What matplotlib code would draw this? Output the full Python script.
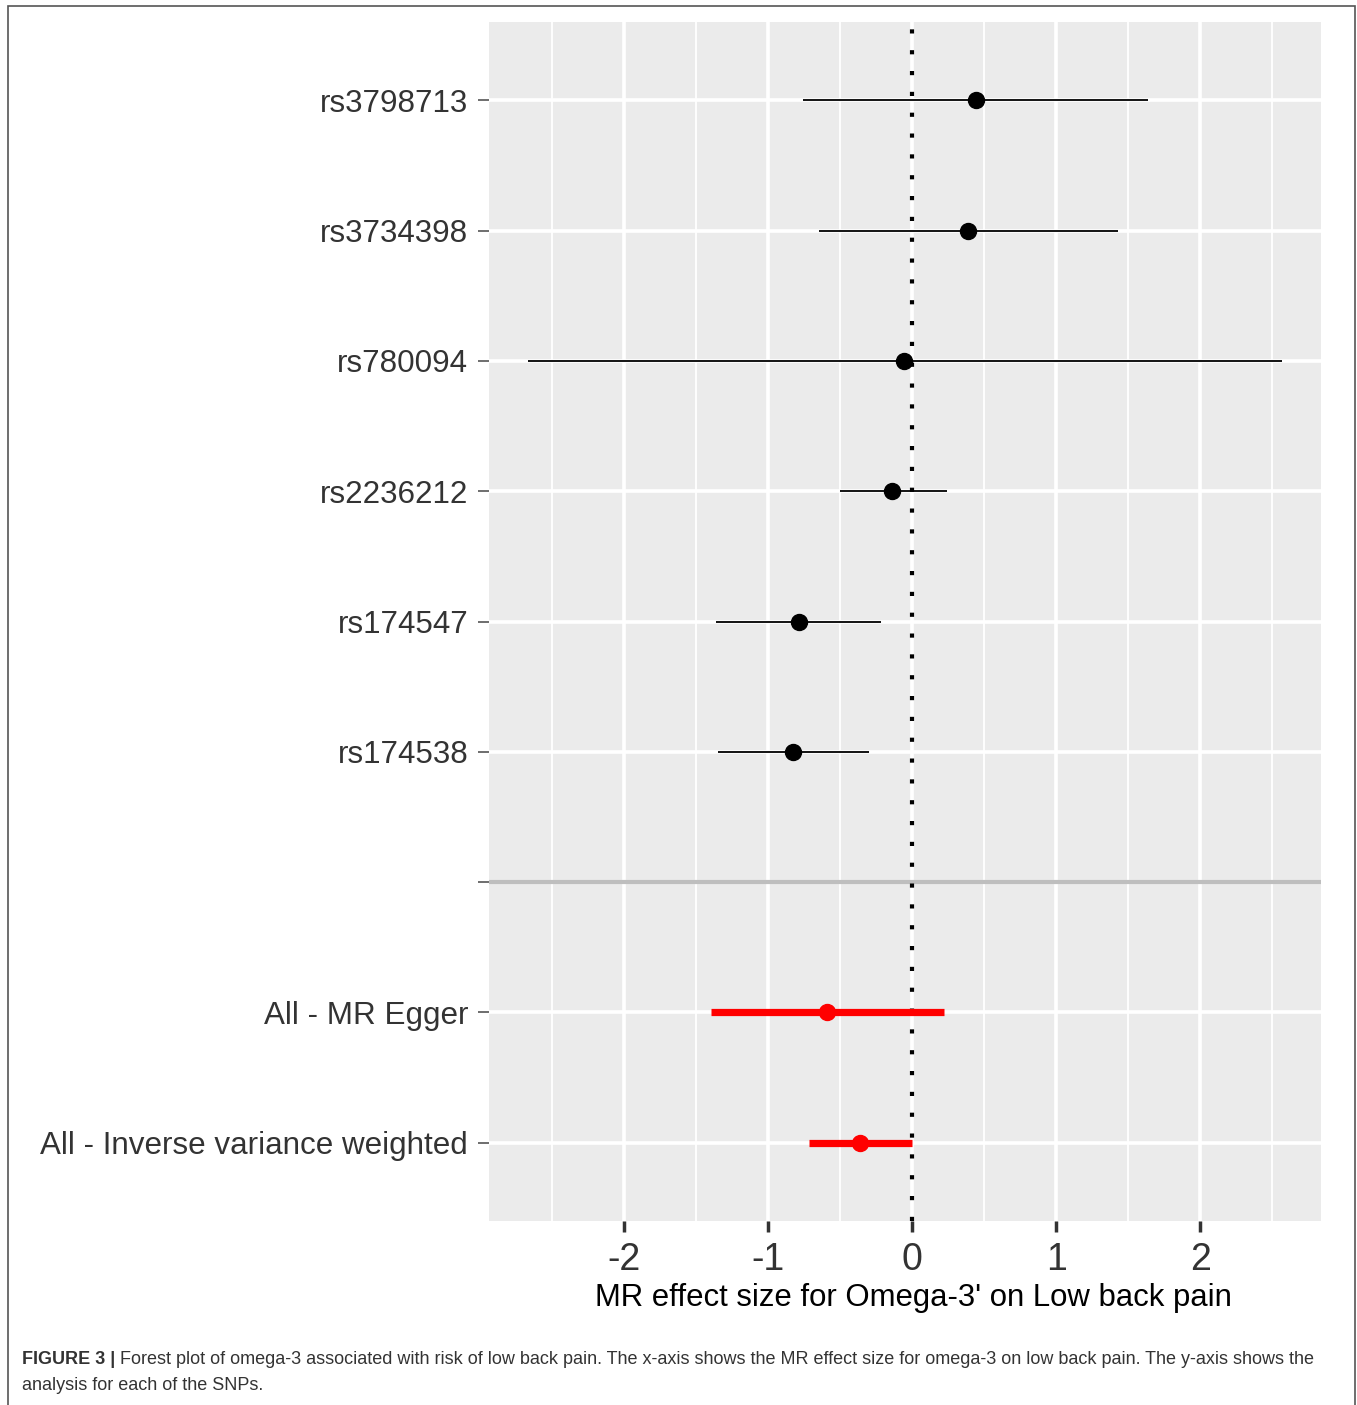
import numpy as np
import matplotlib.pyplot as plt
from matplotlib.patches import Rectangle

plt.rcParams['font.family'] = ['Liberation Sans', 'DejaVu Sans']

# ========================
# DATA
# ========================
snps = ["rs3798713", "rs3734398", "rs780094", "rs2236212", "rs174547", "rs174538"]
snp_b = [0.44, 0.39, -0.06, -0.14, -0.79, -0.83]
snp_lo = [-0.76, -0.65, -2.67, -0.50, -1.36, -1.35]
snp_hi = [1.64, 1.43, 2.57, 0.24, -0.22, -0.30]

methods = ["All - MR Egger", "All - Inverse variance weighted"]
meth_b = [-0.59, -0.36]
meth_lo = [-1.40, -0.72]
meth_hi = [0.22, 0.0]

xticks = [-2, -1, 0, 1, 2]
xlabel = "MR effect size for Omega-3' on Low back pain"
caption_bold = "FIGURE 3 |"
caption_rest = (" Forest plot of omega-3 associated with risk of low back pain. The x-axis shows the MR effect size "
                "for omega-3 on low back pain. The y-axis shows the")
caption_line2 = "analysis for each of the SNPs."

# row positions: top to bottom, separator row in between
labels = snps + [""] + methods
n = len(labels)
ypos = np.arange(n, 0, -1)
snp_y = ypos[:len(snps)]
sep_y = ypos[len(snps)]
meth_y = ypos[len(snps) + 1:]

# ========================
# PLOT
# ========================
fig = plt.figure(figsize=(13.57, 14.05), dpi=100)
ax = fig.add_axes([0.3604, 0.1310, 0.6131, 0.8533])
ax.set_facecolor('#EBEBEB')
for s in ax.spines.values():
    s.set_visible(False)

ax.set_xlim(-2.94, 2.84)
ax.set_ylim(0.4, n + 0.6)

# grid
for x in np.arange(-2.5, 3.0, 1.0):
    ax.axvline(x, color='white', lw=1.3, zorder=0.5)
for x in xticks:
    ax.axvline(x, color='white', lw=2.6, zorder=0.6)
for y in ypos:
    ax.axhline(y, color='white', lw=2.6, zorder=0.6)
ax.axhline(sep_y, color='#BEBEBE', lw=3, zorder=1)

# SNP estimates
ax.hlines(snp_y, snp_lo, snp_hi, color='black', lw=1.3, zorder=3)
ax.plot(snp_b, snp_y, 'o', color='black', ms=11.5, zorder=4)

# summary estimates
ax.hlines(meth_y, meth_lo, meth_hi, color='#FF0000', lw=5.2, zorder=3)
ax.plot(meth_b, meth_y, 'o', color='#FF0000', ms=11.5, zorder=4)

ax.axvline(0, color='black', lw=3, linestyle=(0, (1, 4)), zorder=2)

ax.set_yticks(ypos)
ax.set_yticklabels(labels, va='center_baseline')
ax.set_xticks(xticks)
ax.set_xticklabels([str(t) for t in xticks])
ax.tick_params(axis='y', length=8, width=1.2, color='#555555', pad=7,
               labelsize=22.6, labelcolor='#333333')
ax.tick_params(axis='x', length=8, width=2.5, color='#333333', pad=7,
               labelsize=27, labelcolor='#333333')
ax.set_xlabel(xlabel, fontsize=22.4, color='black', labelpad=5)
ax.xaxis.set_label_coords(0.51, -0.052)

# figure border
fig.patches.append(Rectangle((8 / 1357, -0.01), 1347 / 1357, 1 - 6 / 1405 + 0.01,
                             transform=fig.transFigure, fill=False,
                             edgecolor='#555555', lw=1.2))

# caption
t = fig.text(22 / 1357, 1 - 1360 / 1405, caption_bold, fontsize=13,
             fontweight='bold', color='#333333', va='center')
fig.canvas.draw()
bb = t.get_window_extent()
fig.text(bb.x1 / fig.bbox.width, 1 - 1360 / 1405, caption_rest, fontsize=13,
         color='#333333', va='center')
fig.text(22 / 1357, 1 - 1385 / 1405, caption_line2, fontsize=13,
         color='#333333', va='center')

fig.savefig('out.png', dpi=100)
